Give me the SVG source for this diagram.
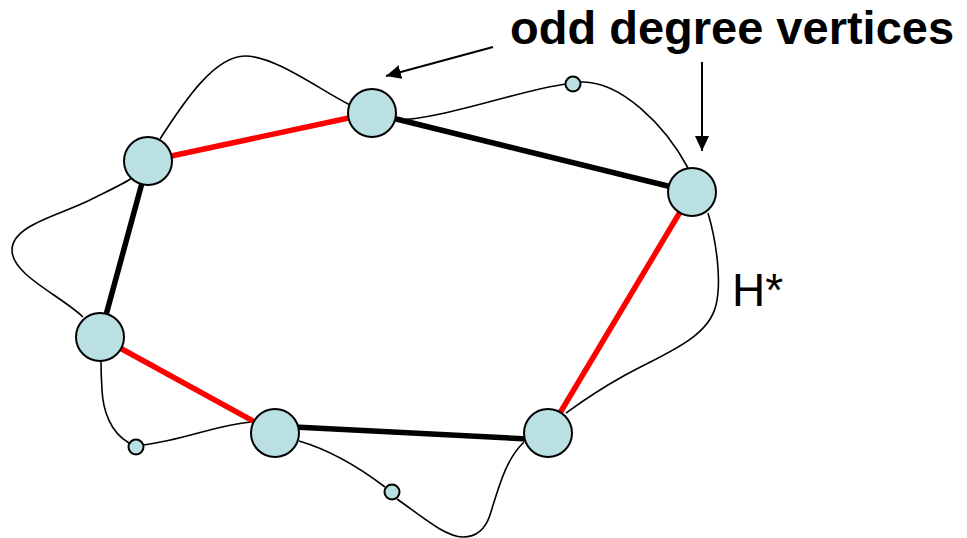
<svg xmlns="http://www.w3.org/2000/svg" width="967" height="538" viewBox="0 0 967 538">
<style>
.thin{fill:none;stroke:#000;stroke-width:1.6}
.red{stroke:#ff0000;stroke-width:5.5;fill:none}
.blk{stroke:#000;stroke-width:5.5;fill:none}
.arr{stroke:#000;stroke-width:2;fill:none;marker-end:url(#ah)}
.node circle{fill:#bbe0e3;stroke:#000;stroke-width:2}
.lbl{font-family:"Liberation Sans",Arial,sans-serif;fill:#000}
</style>
<defs>
<marker id="ah" markerUnits="userSpaceOnUse" markerWidth="16" markerHeight="16" viewBox="0 0 16 16" refX="15" refY="8" orient="auto">
<path d="M0,1 L15,8 L0,15 Z" fill="#000"/>
</marker>
</defs>
<rect width="967" height="538" fill="#fff"/>
<g id="connectors">
<path class="thin" d="M160,139 C185,100 215,56 245,56 C275,56 320,90 350,105"/>
<path class="thin" d="M395,120 C440,120 520,90 566,84"/>
<path class="thin" d="M580,82 C620,80 665,125 688,168"/>
<path class="thin" d="M708,213 C716,240 722,280 716,305 C708,340 660,355 620,378 C595,392 580,403 566,413"/>
<path class="thin" d="M524,442 C505,460 498,490 490,515 C485,530 475,537 463,537 C445,537 420,515 397,499"/>
<path class="thin" d="M385,487 C360,468 330,450 299,441"/>
<path class="thin" d="M252,422 C215,425 185,440 143,445"/>
<path class="thin" d="M129,443 C110,432 103,410 102,390 C101,375 101,368 101,361"/>
<path class="thin" d="M83,317 C60,295 12,275 12,250 C12,225 60,215 90,200 C110,190 125,183 132,178"/>
<line class="red" x1="148" y1="161" x2="372" y2="113"/>
<line class="blk" x1="372" y1="113" x2="692" y2="192"/>
<line class="red" x1="692" y1="192" x2="548" y2="433"/>
<line class="blk" x1="548" y1="440" x2="275" y2="426"/>
<line class="red" x1="275" y1="433" x2="100" y2="337"/>
<line class="blk" x1="100" y1="337" x2="148" y2="161"/>
<line class="arr" x1="493" y1="47" x2="386" y2="76"/>
<line class="arr" x1="702" y1="62" x2="702" y2="151"/>
</g>
<g id="nA" class="node"><circle cx="148" cy="161" r="24"/></g>
<g id="nB" class="node"><circle cx="372" cy="113" r="24"/></g>
<g id="nC" class="node"><circle cx="692" cy="192" r="24"/></g>
<g id="nD" class="node"><circle cx="100" cy="337" r="24"/></g>
<g id="nE" class="node"><circle cx="275" cy="433" r="24"/></g>
<g id="nF" class="node"><circle cx="548" cy="433" r="24"/></g>
<g id="s1" class="node"><circle cx="573" cy="84" r="7.5"/></g>
<g id="s2" class="node"><circle cx="136" cy="447" r="7.5"/></g>
<g id="s3" class="node"><circle cx="392" cy="492" r="7.5"/></g>
<text class="lbl" x="510" y="44" font-size="47" font-weight="bold">odd degree vertices</text>
<text class="lbl" x="732" y="306" font-size="46">H*</text>
</svg>
